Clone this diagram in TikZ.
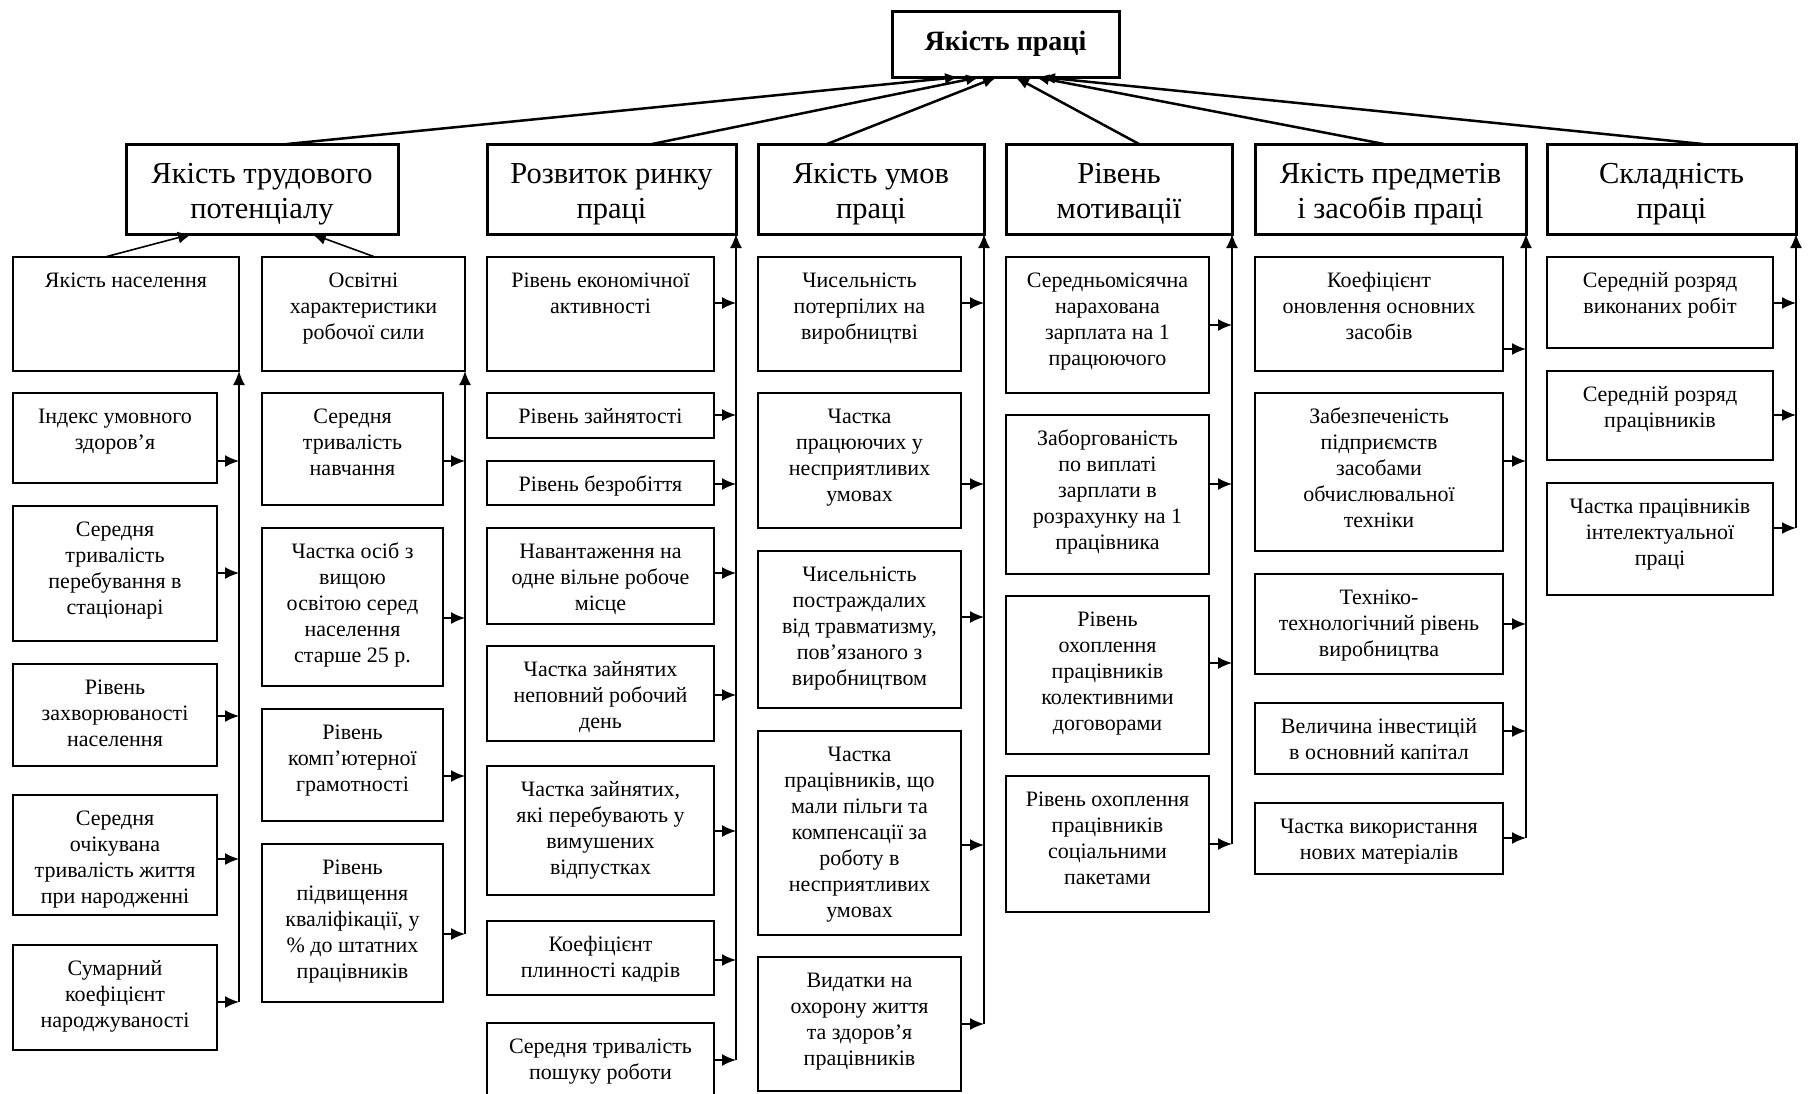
\documentclass[tikz,border=0pt]{standalone}
\usepackage{fontspec}
\setmainfont{Liberation Serif}
\usetikzlibrary{arrows.meta}
\tikzset{
  lbox/.style={draw, line width=1.5pt, inner sep=0pt, outer sep=0pt, anchor=north west, font=\fontsize{22}{26}\selectfont},
  hbox/.style={draw, line width=3pt, inner sep=0pt, outer sep=0pt, anchor=north west},
  htext/.style={inner sep=0pt, align=center, font=\fontsize{30.5}{35}\selectfont},
  tbox/.style={draw, line width=3pt, inner sep=0pt, outer sep=0pt, anchor=north west, align=center, font=\fontsize{28}{34}\selectfont\bfseries},
  conv/.style={line width=2.5pt, -{Latex[length=14pt,width=11pt]}},
  sarr/.style={line width=1.6pt, -{Latex[length=14pt,width=12pt]}},
}
% box: name, x1, y1, x2, y2, text
\newcommand\bx[6]{\node[lbox] (#1) at (#2,#3) {\parbox[t][\dimexpr#5pt-#3pt\relax][t]{\dimexpr#4pt-#2pt\relax}{\centering\rule{0pt}{30pt}#6}};}
% header box: name, x1, y1, x2, y2, text
\newcommand\hb[6]{\node[hbox, minimum width=\dimexpr#4pt-#2pt\relax, minimum height=\dimexpr#5pt-#3pt\relax] (#1) at (#2,#3) {};
  \node[htext] (#1t) at ([yshift=-5pt]#1.center) {#6};}
% horizontal arrow: box, parent, y
\newcommand\ha[3]{\draw[sarr] (#1.east |- 0,#3) -- (#2.south east |- 0,#3);}
% vertical arrow: parent, lowest y
\newcommand\va[2]{\draw[sarr] (#1.south east |- 0,#2) -- (#1.south east);}
\begin{document}
\begin{tikzpicture}[x=1pt, y=-1pt]
\useasboundingbox (0,0) rectangle (1809,1093);
\clip (0,0) rectangle (1809,1093);

% top
\node[tbox, minimum width=227pt, minimum height=66pt] (T) at (892,11) {Якість праці};

% level 2
\hb{L1}{126}{144}{398}{234}{Якість трудового\\потенціалу}
\hb{L2}{487}{144}{736}{234}{Розвиток ринку\\праці}
\hb{L3}{758}{144}{984}{234}{Якість умов\\праці}
\hb{L4}{1006}{144}{1232}{234}{Рівень\\мотивації}
\hb{L5}{1255}{144}{1526}{234}{Якість предметів\\і засобів праці}
\hb{L6}{1547}{144}{1796}{234}{Складність\\праці}

% converging arrows
\draw[conv] (287,0 |- L1.north) -- (959,0 |- T.south);
\draw[conv] (652,0 |- L2.north) -- (980,0 |- T.south);
\draw[conv] (827,0 |- L3.north) -- (997,0 |- T.south);
\draw[conv] (1139,0 |- L4.north) -- (1015,0 |- T.south);
\draw[conv] (1384,0 |- L5.north) -- (1035,0 |- T.south);
\draw[conv] (1703,0 |- L6.north) -- (1041,0 |- T.south);

% column 1
\bx{A0}{13}{257}{239}{371}{Якість населення}
\bx{B0}{262}{257}{465}{371}{Освітні\\характеристики\\робочої сили}
\draw[sarr] (105,0 |- A0.north) -- (192,0 |- L1.south);
\draw[sarr] (375,0 |- B0.north) -- (312,0 |- L1.south);

\bx{A1}{13}{393}{217}{483}{Індекс умовного\\здоров’я}
\bx{A2}{13}{506}{217}{641}{Середня\\тривалість\\перебування в\\стаціонарі}
\bx{A3}{13}{664}{217}{766}{Рівень\\захворюваності\\населення}
\bx{A4}{13}{795}{217}{915}{Середня\\очікувана\\тривалість життя\\при народженні}
\bx{A5}{13}{945}{217}{1050}{Сумарний\\коефіцієнт\\народжуваності}
\ha{A1}{A0}{461}
\ha{A2}{A0}{573}
\ha{A3}{A0}{716}
\ha{A4}{A0}{859}
\ha{A5}{A0}{1002}
\va{A0}{1002}

\bx{B1}{262}{393}{443}{505}{Середня\\тривалість\\навчання}
\bx{B2}{262}{528}{443}{686}{Частка осіб з\\вищою\\освітою серед\\населення\\старше 25 р.}
\bx{B3}{262}{709}{443}{821}{Рівень\\комп’ютерної\\грамотності}
\bx{B4}{262}{844}{443}{1002}{Рівень\\підвищення\\кваліфікації, у\\\% до штатних\\працівників}
\ha{B1}{B0}{461}
\ha{B2}{B0}{618}
\ha{B3}{B0}{776}
\ha{B4}{B0}{934}
\va{B0}{934}

% column 2
\bx{C0}{487}{257}{714}{371}{Рівень економічної\\активності}
\bx{C1}{487}{393}{714}{438}{Рівень зайнятості}
\bx{C2}{487}{461}{714}{505}{Рівень безробіття}
\bx{C3}{487}{528}{714}{624}{Навантаження на\\одне вільне робоче\\місце}
\bx{C4}{487}{646}{714}{741}{Частка зайнятих\\неповний робочий\\день}
\bx{C5}{487}{766}{714}{895}{Частка зайнятих,\\які перебувають у\\вимушених\\відпустках}
\bx{C6}{487}{921}{714}{995}{Коефіцієнт\\плинності кадрів}
\bx{C7}{487}{1023}{714}{1110}{Середня тривалість\\пошуку роботи}
\ha{C0}{L2}{303}
\ha{C1}{L2}{415}
\ha{C2}{L2}{484}
\ha{C3}{L2}{573}
\ha{C4}{L2}{695}
\ha{C5}{L2}{831}
\ha{C6}{L2}{960}
\ha{C7}{L2}{1060}
\va{L2}{1060}

% column 3
\bx{D0}{758}{257}{961}{371}{Чисельність\\потерпілих на\\виробництві}
\bx{D1}{758}{393}{961}{528}{Частка\\працюючих у\\несприятливих\\умовах}
\bx{D2}{758}{551}{961}{708}{Чисельність\\постраждалих\\від травматизму,\\пов’язаного з\\виробництвом}
\bx{D3}{758}{731}{961}{935}{Частка\\працівників, що\\мали пільги та\\компенсації за\\роботу в\\несприятливих\\умовах}
\bx{D4}{758}{957}{961}{1091}{Видатки на\\охорону життя\\та здоров’я\\працівників}
\ha{D0}{L3}{303}
\ha{D1}{L3}{484}
\ha{D2}{L3}{617}
\ha{D3}{L3}{845}
\ha{D4}{L3}{1024}
\va{L3}{1024}

% column 4
\bx{E0}{1006}{257}{1209}{393}{Середньомісячна\\нарахована\\зарплата на 1\\працюючого}
\bx{E1}{1006}{415}{1209}{574}{Заборгованість\\по виплаті\\зарплати в\\розрахунку на 1\\працівника}
\bx{E2}{1006}{596}{1209}{754}{Рівень\\охоплення\\працівників\\колективними\\договорами}
\bx{E3}{1006}{776}{1209}{912}{Рівень охоплення\\працівників\\соціальними\\пакетами}
\ha{E0}{L4}{325}
\ha{E1}{L4}{484}
\ha{E2}{L4}{663}
\ha{E3}{L4}{844}
\va{L4}{844}

% column 5
\bx{F0}{1255}{257}{1503}{371}{Коефіцієнт\\оновлення основних\\засобів}
\bx{F1}{1255}{393}{1503}{551}{Забезпеченість\\підприємств\\засобами\\обчислювальної\\техніки}
\bx{F2}{1255}{574}{1503}{674}{Техніко-\\технологічний рівень\\виробництва}
\bx{F3}{1255}{703}{1503}{774}{Величина інвестицій\\в основний капітал}
\bx{F4}{1255}{803}{1503}{874}{Частка використання\\нових матеріалів}
\ha{F0}{L5}{349}
\ha{F1}{L5}{461}
\ha{F2}{L5}{624}
\ha{F3}{L5}{731}
\ha{F4}{L5}{838}
\va{L5}{838}

% column 6
\bx{G0}{1547}{257}{1773}{348}{Середній розряд\\виконаних робіт}
\bx{G1}{1547}{371}{1773}{460}{Середній розряд\\працівників}
\bx{G2}{1547}{483}{1773}{595}{Частка працівників\\інтелектуальної\\праці}
\ha{G0}{L6}{303}
\ha{G1}{L6}{415}
\ha{G2}{L6}{528}
\va{L6}{528}
\end{tikzpicture}
\end{document}
